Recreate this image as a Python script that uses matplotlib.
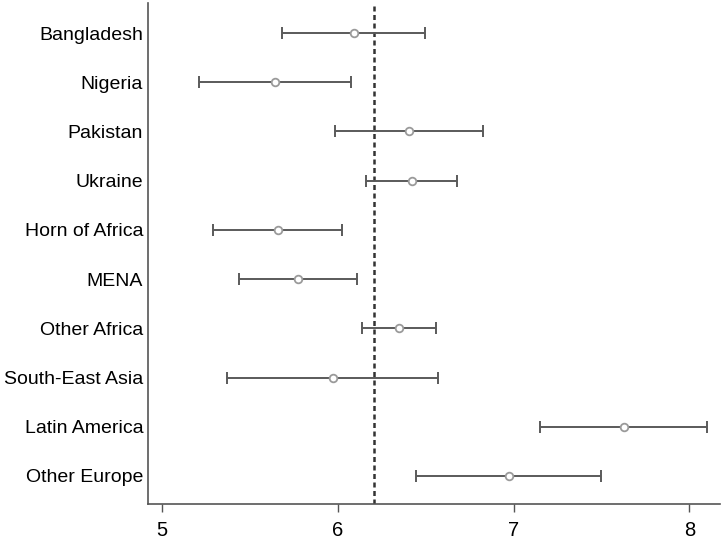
#Import required packages
import numpy as np
import matplotlib.pyplot as plt

plt.rcParams['font.family'] = ['Liberation Sans', 'DejaVu Sans']

#Regions, point estimates and confidence bounds (top to bottom)
regions = ["Bangladesh", "Nigeria", "Pakistan", "Ukraine", "Horn of Africa",
           "MENA", "Other Africa", "South-East Asia", "Latin America", "Other Europe"]
estimates = [6.092, 5.643, 6.407, 6.420, 5.659, 5.774, 6.350, 5.972, 7.626, 6.973]
lower = [5.684, 5.208, 5.985, 6.159, 5.290, 5.437, 6.139, 5.370, 7.152, 6.445]
upper = [6.498, 6.075, 6.828, 6.680, 6.024, 6.110, 6.557, 6.567, 8.098, 7.495]
overall_mean = 6.205

y_pos = np.arange(len(regions))
est = np.array(estimates)
err = [est - np.array(lower), np.array(upper) - est]

fig = plt.figure(figsize=(7.25, 5.39), dpi=100)
ax = fig.add_axes([148/725, 35/539, 572/725, 501/539])

#Confidence intervals with hollow markers
ax.errorbar(est, y_pos, xerr=err, fmt='none', ecolor='#5a5a5a',
            elinewidth=1.4, capsize=4, capthick=1.4)
ax.plot(est, y_pos, 'o', mfc='white', mec='#9a9a9a', ms=5.5, mew=1.3, zorder=3)

#Reference line at the overall mean
ax.axvline(overall_mean, color='#333333', lw=1.8, ls=(0, (2, 1.4)), zorder=1)

#Axes styling
ax.set_yticks(y_pos)
ax.set_yticklabels(regions, fontsize=14)
ax.set_xticks([5, 6, 7, 8])
ax.tick_params(axis='x', labelsize=14.5, length=6, width=1, color='#555555', pad=6)
ax.tick_params(axis='y', length=0, pad=3.5)
ax.set_xlim(4.920, 8.174)
ax.set_ylim(9.57, -0.61)

for side in ['top', 'right']:
    ax.spines[side].set_visible(False)
for side in ['left', 'bottom']:
    ax.spines[side].set_color('#555555')
    ax.spines[side].set_linewidth(1.2)

#Save the figure
plt.savefig("out.png", dpi=100)
